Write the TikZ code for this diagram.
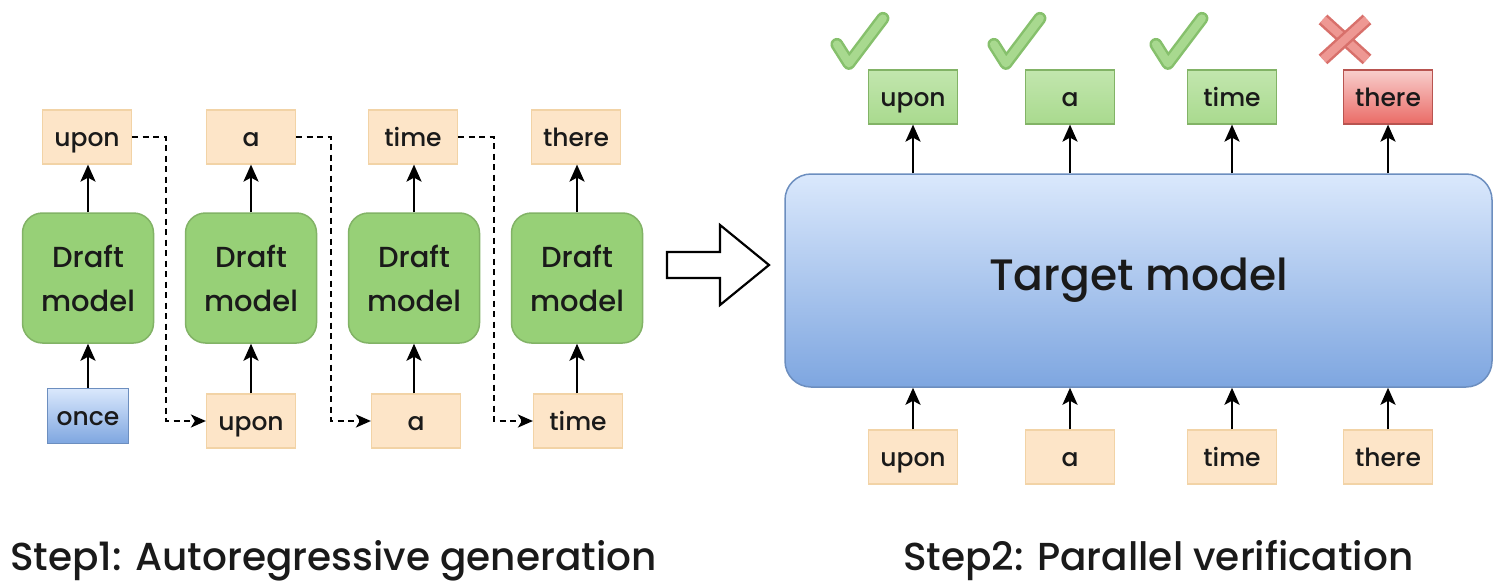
\documentclass[tikz,border=0pt]{standalone}
\usepackage{fontspec}
\setmainfont{Poppins Medium}
\usetikzlibrary{arrows.meta,calc}

\definecolor{tokfill}{HTML}{FDE5C8}
\definecolor{tokline}{HTML}{F2D3A6}
\definecolor{draftfill}{HTML}{97D077}
\definecolor{draftline}{HTML}{82B366}
\definecolor{okfill}{HTML}{A9DA8E}
\definecolor{oktop}{HTML}{C2E6AE}
\definecolor{bluetop}{HTML}{DAE8FC}
\definecolor{bluebot}{HTML}{7EA6E0}
\definecolor{blueline}{HTML}{6C8EBF}
\definecolor{redtop}{HTML}{F8CECC}
\definecolor{redbot}{HTML}{EA6B66}
\definecolor{redline}{HTML}{B85450}
\definecolor{tickout}{HTML}{86C06C}
\definecolor{tickin}{HTML}{A8D98F}
\definecolor{crossout}{HTML}{D8706B}
\definecolor{crossin}{HTML}{EE9893}
\definecolor{ink}{HTML}{1A1A1A}

\tikzset{
  tok/.style={draw=tokline, fill=tokfill, line width=1.2pt, minimum width=89pt,
    minimum height=54pt, inner sep=0pt, text height=20pt, text depth=2pt,
    text=ink, font=\fontsize{25}{30}\selectfont},
  oktok/.style={tok, draw=draftline, top color=oktop, bottom color=okfill},
  badtok/.style={tok, draw=redline, top color=redtop, bottom color=redbot},
  seedtok/.style={tok, draw=blueline, top color=bluetop, bottom color=bluebot,
    minimum width=81pt, minimum height=55pt},
  draftbox/.style={draw=draftline, fill=draftfill, rounded corners=20pt,
    line width=1.5pt, minimum width=131pt, minimum height=130pt, align=center,
    inner sep=0pt, text=ink, font=\fontsize{29}{44}\selectfont},
  targetbox/.style={draw=blueline, top color=bluetop, bottom color=bluebot,
    rounded corners=26pt, line width=1.5pt, minimum width=707pt,
    minimum height=213pt, inner sep=0pt, text=ink, font=\fontsize{44}{50}\selectfont},
  up/.style={-{Stealth[length=17pt,width=15pt,inset=4pt]}, line width=2.6pt},
  hop/.style={dash pattern=on 6pt off 4.5pt, line width=2.2pt,
    -{Stealth[length=15pt,width=13pt,inset=4pt]}},
  caption/.style={anchor=base west, inner sep=0pt, text=ink,
    font=\fontsize{39}{45}\selectfont},
  tick/.pic={
    \draw[tickout, line width=13pt, line cap=round, line join=round]
      (-31,45) -- (-19,64) -- (15,19);
    \draw[tickin, line width=8pt, line cap=round, line join=round]
      (-31,45) -- (-19,64) -- (15,19);
  },
  cross/.pic={
    \foreach \a/\b in {{(-22,-20)}/{(22,20)},{(22,-20)}/{(-22,20)}}{
      \draw[crossout, line width=13pt] \a -- \b;
      \draw[crossin, line width=8pt] \a -- \b;
    }
  }
}

\begin{document}
\begin{tikzpicture}[x=1pt, y=-1pt]
\useasboundingbox[fill=white] (0,0) rectangle (1495,586);

% ---- Step 1: the draft model produces one token at a time ----
\foreach \i/\x in {1/88, 2/251, 3/414, 4/577}
  \node[draftbox] (d\i) at (\x,278) {Draft\\model};

\node[tok] (o1) at (87,137)  {upon};
\node[tok] (o2) at (251,137) {a};
\node[tok] (o3) at (413,137) {time};
\node[tok] (o4) at (576,137) {there};

\node[seedtok] (i1) at (88,416) {once};
\node[tok] (i2) at (251,421) {upon};
\node[tok] (i3) at (416,421) {a};
\node[tok] (i4) at (578,421) {time};

\foreach \i in {1,...,4}{
  \draw[up] (d\i.north) -- (d\i.north |- o\i.south);
  \draw[up] (d\i.south |- i\i.north) -- (d\i.south);
}

% each new token is fed back as the next input
\draw[hop] (o1.east) -- ++(34,0) |- (i2.west);
\draw[hop] (o2.east) -- ++(35,0) |- (i3.west);
\draw[hop] (o3.east) -- ++(36,0) |- (i4.west);

% hollow arrow between the two steps
\draw[line width=2.2pt, line join=miter, fill=white]
  (667,252) -- (720,252) -- (720,225) -- (769,265) -- (720,305)
  -- (720,278) -- (667,278) -- cycle;

% ---- Step 2: the target model checks all drafted tokens at once ----
\node[targetbox] (tgt) at (1138.5,280.5) {Target model};

\node[oktok]  (r1) at (913,97)  {upon};
\node[oktok]  (r2) at (1070,97) {a};
\node[oktok]  (r3) at (1232,97) {time};
\node[badtok] (r4) at (1388,97) {there};

\node[tok] (s1) at (913,457)  {upon};
\node[tok] (s2) at (1070,457) {a};
\node[tok] (s3) at (1232,457) {time};
\node[tok] (s4) at (1388,457) {there};

\foreach \i in {1,...,4}{
  \draw[up] (r\i.south |- tgt.north) -- (r\i.south);
  \draw[up] (s\i.north) -- (s\i.north |- tgt.south);
}

% verdict marks
\foreach \i in {1,2,3}
  \pic at ($(r\i.north west)+(0,-70)$) {tick};
\pic at ($(r4.north)+(-43,-30)$) {cross};

% captions
\node[caption] (cap1) at (10,570)  {Step1: Autoregressive generation};
\node[caption] (cap2) at (903,570) {Step2: Parallel verification};
\end{tikzpicture}
\end{document}
